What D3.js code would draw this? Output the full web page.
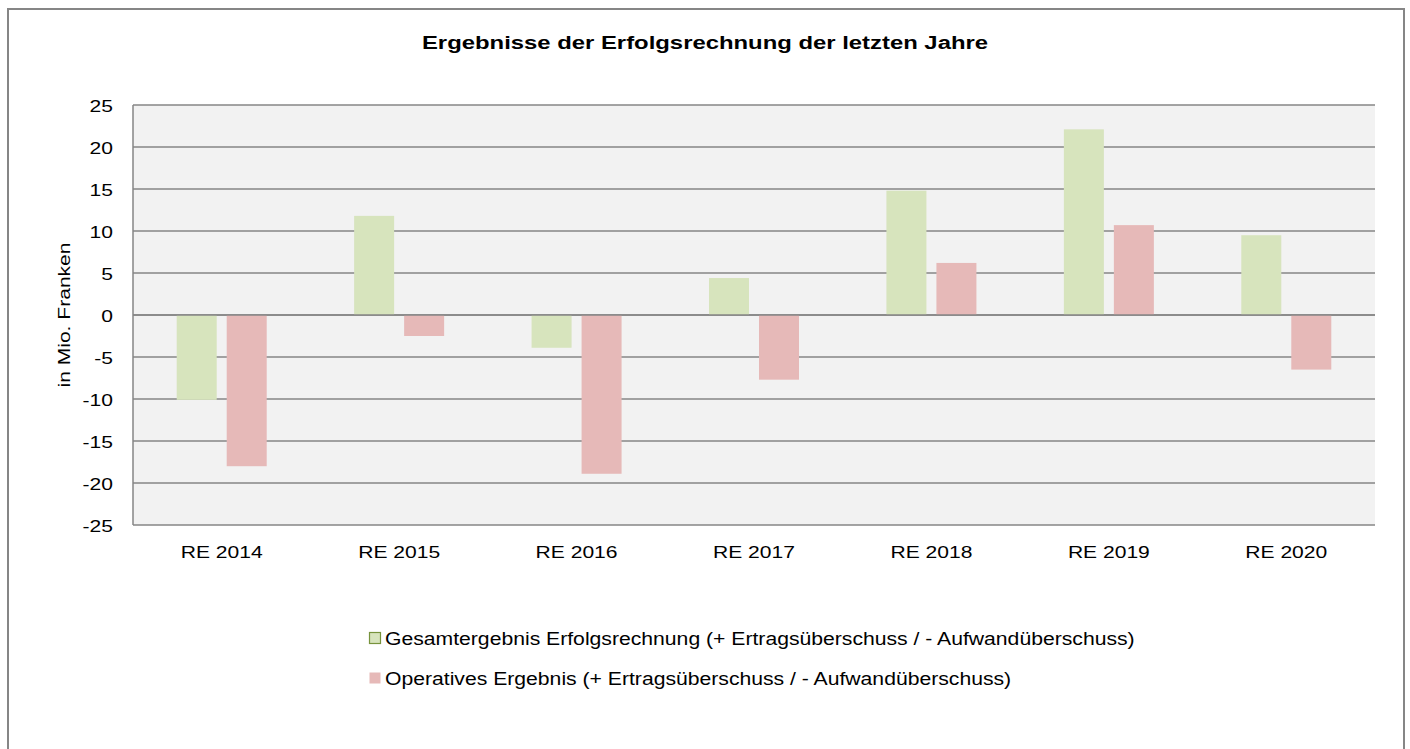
<!DOCTYPE html>
<html>
<head>
<meta charset="utf-8">
<script src="https://cdn.jsdelivr.net/npm/d3@7"></script>
<style>
body { margin: 0; background: #fff; }
svg text { font-family: "Liberation Sans", Arial, sans-serif; fill: #000; }
</style>
</head>
<body>
<svg width="1410" height="749"></svg>
<script>
var categories = ["RE 2014", "RE 2015", "RE 2016", "RE 2017", "RE 2018", "RE 2019", "RE 2020"];
var gesamt = [-10.1, 11.8, -3.9, 4.4, 14.8, 22.1, 9.5];
var operativ = [-18.0, -2.5, -18.9, -7.7, 6.2, 10.7, -6.5];
var seriesNames = [
  "Gesamtergebnis Erfolgsrechnung (+ Ertragsüberschuss / - Aufwandüberschuss)",
  "Operatives Ergebnis (+ Ertragsüberschuss / - Aufwandüberschuss)"
];
var seriesColors = ["#d7e4bd", "#e6b9b8"];
var yTicks = [25, 20, 15, 10, 5, 0, -5, -10, -15, -20, -25];

// reference text is rendered wider than Liberation Sans
var stretch = 1.24;

var svg = d3.select("svg");

// outer chart frame
svg.append("rect")
  .attr("x", 8).attr("y", 9)
  .attr("width", 1396).attr("height", 760)
  .attr("fill", "#fff")
  .attr("stroke", "#868686")
  .attr("stroke-width", 2);

var plotL = 133, plotR = 1375, plotT = 105, plotB = 525;

var x = d3.scaleBand().domain(categories).range([plotL, plotR]);
var x1 = d3.scaleBand().domain([0, 1]).range([-45, 45]).paddingInner(0.2);
var y = d3.scaleLinear().domain([-25, 25]).range([plotB, plotT]);

// plot background
svg.append("rect")
  .attr("x", plotL).attr("y", plotT)
  .attr("width", plotR - plotL).attr("height", plotB - plotT)
  .attr("fill", "#f2f2f2");

// gridlines
svg.append("g")
  .selectAll("line")
  .data(yTicks)
  .enter().append("line")
  .attr("x1", plotL).attr("x2", plotR)
  .attr("y1", function(d) { return y(d); })
  .attr("y2", function(d) { return y(d); })
  .attr("stroke", "#868686")
  .attr("stroke-width", 1.5);

// left axis line
svg.append("line")
  .attr("x1", plotL).attr("x2", plotL)
  .attr("y1", plotT).attr("y2", plotB)
  .attr("stroke", "#868686")
  .attr("stroke-width", 1.5);

// bars
var rows = categories.map(function(c, i) {
  return { cat: c, values: [gesamt[i], operativ[i]] };
});

var groups = svg.append("g")
  .selectAll("g")
  .data(rows)
  .enter().append("g")
  .attr("transform", function(d) { return "translate(" + (x(d.cat) + x.bandwidth() / 2) + ",0)"; });

groups.selectAll("rect")
  .data(function(d) { return d.values.map(function(v, k) { return { k: k, v: v }; }); })
  .enter().append("rect")
  .attr("x", function(d) { return x1(d.k); })
  .attr("width", x1.bandwidth())
  .attr("y", function(d) { return y(Math.max(0, d.v)); })
  .attr("height", function(d) { return Math.abs(y(d.v) - y(0)); })
  .attr("fill", function(d) { return seriesColors[d.k]; });

// zero line on top of bars
svg.append("line")
  .attr("x1", plotL).attr("x2", plotR)
  .attr("y1", y(0)).attr("y2", y(0))
  .attr("stroke", "#868686")
  .attr("stroke-width", 1.5);

// y axis labels (plain hyphen for negatives)
var yAxis = d3.axisLeft(y).tickValues(yTicks).tickSize(0)
  .tickFormat(function(d) { return String(d); });
var ya = svg.append("g").attr("transform", "translate(" + plotL + ",0)").call(yAxis);
ya.select(".domain").remove();
ya.selectAll("text")
  .attr("x", -20 / stretch)
  .attr("dy", "0.36em")
  .attr("transform", "scale(" + stretch + ",1)")
  .style("font-size", "17px")
  .style("font-family", "Liberation Sans, Arial, sans-serif")
  .attr("fill", "#000");

// x axis labels
var xAxis = d3.axisBottom(x).tickSize(0);
var xa = svg.append("g").attr("transform", "translate(0," + plotB + ")").call(xAxis);
xa.select(".domain").remove();
xa.selectAll("text")
  .attr("y", 33)
  .attr("dy", null)
  .attr("transform", "scale(" + stretch + ",1)")
  .style("font-size", "17px")
  .style("font-family", "Liberation Sans, Arial, sans-serif")
  .attr("fill", "#000");

// title
svg.append("text")
  .attr("transform", "translate(705,49) scale(1.29,1)")
  .attr("text-anchor", "middle")
  .style("font-size", "18.5px")
  .style("font-weight", "bold")
  .text("Ergebnisse der Erfolgsrechnung der letzten Jahre");

// y label
svg.append("text")
  .attr("transform", "translate(70," + y(0) + ") rotate(-90) scale(" + stretch + ",1)")
  .attr("text-anchor", "middle")
  .style("font-size", "17px")
  .text("in Mio. Franken");

// legend
var legend = svg.append("g")
  .selectAll("g")
  .data(seriesNames)
  .enter().append("g")
  .attr("transform", function(d, i) { return "translate(369," + (645 + i * 40) + ")"; });

legend.append("rect")
  .attr("x", 0.5).attr("y", -12.5)
  .attr("width", 11).attr("height", 11)
  .attr("fill", function(d, i) { return seriesColors[i]; })
  .attr("stroke", function(d, i) { return i === 0 ? "#77933c" : "none"; })
  .attr("stroke-width", 1.2);

legend.append("text")
  .attr("transform", "translate(16,0) scale(1.21,1)")
  .style("font-size", "17.5px")
  .text(function(d) { return d; });
</script>
</body>
</html>
